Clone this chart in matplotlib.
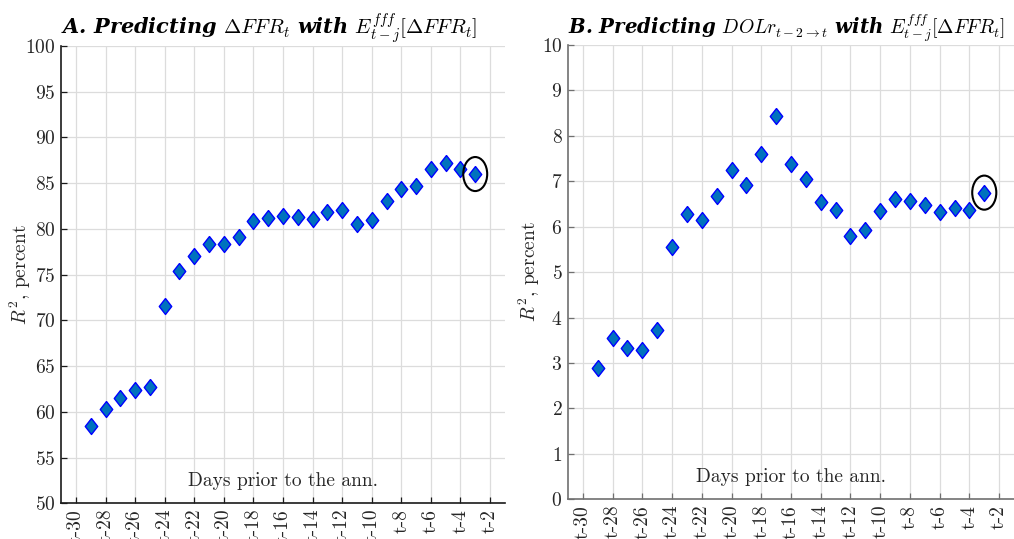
import matplotlib
matplotlib.use("Agg")
import matplotlib.pyplot as plt
from matplotlib.patches import Ellipse

plt.rcParams['mathtext.fontset'] = 'cm'
plt.rcParams['font.family'] = ['cmr10', 'DejaVu Serif']
plt.rcParams['axes.formatter.use_mathtext'] = True
plt.rcParams['axes.unicode_minus'] = False

# ---- data ----
days = [-29, -28, -27, -26, -25, -24, -23, -22, -21, -20, -19, -18, -17, -16,
        -15, -14, -13, -12, -11, -10, -9, -8, -7, -6, -5, -4, -3]
r2_ffr = [58.5, 60.3, 61.5, 62.4, 62.7, 71.6, 75.4, 77.0, 78.3, 78.4, 79.1, 80.9,
          81.2, 81.4, 81.3, 81.1, 81.9, 82.1, 80.5, 81.0, 83.1, 84.4, 84.7, 86.5,
          87.2, 86.6, 86.0]
r2_dol = [2.89, 3.56, 3.34, 3.29, 3.72, 5.56, 6.29, 6.14, 6.68, 7.24, 6.92, 7.61,
          8.43, 7.39, 7.06, 6.54, 6.37, 5.80, 5.93, 6.35, 6.62, 6.57, 6.48, 6.33,
          6.41, 6.36, 6.75]
tick_pos = [-30, -28, -26, -24, -22, -20, -18, -16, -14, -12, -10, -8, -6, -4, -2]
tick_labels = ['t-30', 't-28', 't-26', 't-24', 't-22', 't-20', 't-18', 't-16',
               't-14', 't-12', 't-10', 't-8', 't-6', 't-4', 't-2']

titles = [r'A. Predicting $\Delta FFR_t$ with $E^{fff}_{t-j}[\Delta FFR_t]$',
          r'B. Predicting $DOLr_{t-2\rightarrow t}$ with $E^{fff}_{t-j}[\Delta FFR_t]$']

W, H = 1014, 539
fig = plt.figure(figsize=(W / 100, H / 100), dpi=100)

diamond = [(0, 1), (0.78, 0), (0, -1), (-0.78, 0), (0, 1)]

panels = [
    dict(rect=[61.2, 46, 504.8, 503.3], y=r2_ffr, ylim=(50, 100), yticks=range(50, 101, 5),
         spine='#1a1a1a', ell_h=3.72, title=titles[0], ylab_x=-0.064, tsize=15),
    dict(rect=[568, 45, 1014, 499.3], y=r2_dol, ylim=(0, 10), yticks=range(0, 11, 1),
         spine='#707070', ell_h=0.75, title=titles[1], ylab_x=-0.058, tsize=14.2),
]

for p in panels:
    l, t, r, b = p['rect']
    ax = fig.add_axes([l / W, (H - b) / H, (r - l) / W, (b - t) / H])
    ax.set_xlim(-31, -1)
    ax.set_ylim(*p['ylim'])
    ax.set_xticks(tick_pos)
    ax.set_xticklabels(tick_labels, rotation=90)
    ax.set_yticks(list(p['yticks']))
    ax.grid(True, color='#dcdcdc', lw=0.9)
    ax.set_axisbelow(True)
    for s in ['top', 'right']:
        ax.spines[s].set_visible(False)
    for s in ['left', 'bottom']:
        ax.spines[s].set_color(p['spine'])
        ax.spines[s].set_linewidth(1.2)
    ax.tick_params(direction='in', length=4, width=0.9, color=p['spine'],
                   labelsize=14, labelcolor='#262626', pad=4)
    ax.plot(days, p['y'], linestyle='none', marker=diamond, markersize=11.5,
            markerfacecolor='#0072BD', markeredgecolor='#0000FF', markeredgewidth=1.0,
            zorder=3)
    ax.add_patch(Ellipse((days[-1], p['y'][-1]), width=1.62, height=p['ell_h'],
                         fill=False, edgecolor='black', lw=1.5, zorder=4))
    ax.set_ylabel(r'$R^2$, percent', fontsize=14, color='#262626')
    ax.yaxis.set_label_coords(p['ylab_x'], 0.5)
    ax.text(0.5, 0.048, 'Days prior to the ann.', transform=ax.transAxes,
            ha='center', va='center', fontsize=14, color='#262626')
    ax.set_title(p['title'], loc='left', fontsize=p['tsize'], fontfamily='DejaVu Serif',
                 fontweight='bold', fontstyle='italic', pad=7)

fig.savefig('out.png', dpi=100)
